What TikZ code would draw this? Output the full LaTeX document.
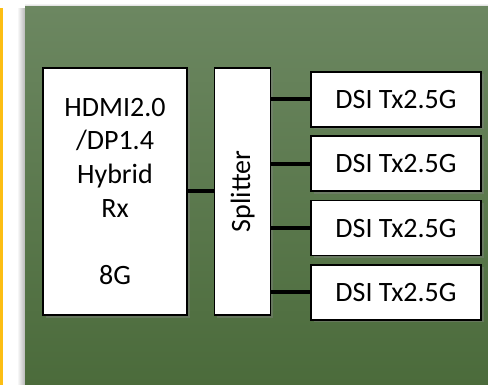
\documentclass[tikz,border=0pt]{standalone}
\usepackage{fontspec}
\setmainfont{Carlito}
\usetikzlibrary{positioning,shadows}

\definecolor{stripegold}{RGB}{252,190,20}
\definecolor{paneltop}{RGB}{108,135,97}
\definecolor{panelbot}{RGB}{75,107,59}

\tikzset{
  blk/.style={draw=black, line width=1.6pt, fill=white, inner sep=0pt, align=center,
    drop shadow={shadow xshift=2.5pt, shadow yshift=-2.5pt, opacity=0.45}},
  tallbox/.style={blk, minimum height=247pt},
  dsibox/.style={blk, minimum width=170pt, minimum height=55pt},
  link/.style={line width=4pt}
}

\begin{document}
\begin{tikzpicture}[x=1pt, y=-1pt, node distance=7.7pt,
  font=\fontsize{28}{33.7}\selectfont]
\useasboundingbox (0,0) rectangle (488,385);

% stripe and panel
\fill[stripegold] (0,8) rectangle (3,385);
\shade[left color=white, right color=black!28] (17,9) rectangle (25,385);
\shade[top color=white, bottom color=black!20] (25,3) rectangle (488,7);
\shade[top color=paneltop, bottom color=panelbot] (25,7) rectangle (488,385);

% blocks
\node[tallbox, minimum width=144pt] (hdmi) at (115,191.5)
  {HDMI2.0\\/DP1.4\\Hybrid\\Rx\\[33.7pt]8G};
\node[tallbox, minimum width=56pt, right=26pt of hdmi] (split)
  {\rotatebox{90}{Splitter}};

\node[dsibox] (dsi1) at (396,99.5) {DSI Tx2.5G};
\node[dsibox, below=of dsi1] (dsi2) {DSI Tx2.5G};
\node[dsibox, below=of dsi2] (dsi3) {DSI Tx2.5G};
\node[dsibox, below=of dsi3] (dsi4) {DSI Tx2.5G};

% links
\draw[link] (hdmi) -- (split);
\foreach \i in {1,...,4}
  \draw[link] (split.east |- dsi\i) -- (dsi\i);
\end{tikzpicture}
\end{document}
